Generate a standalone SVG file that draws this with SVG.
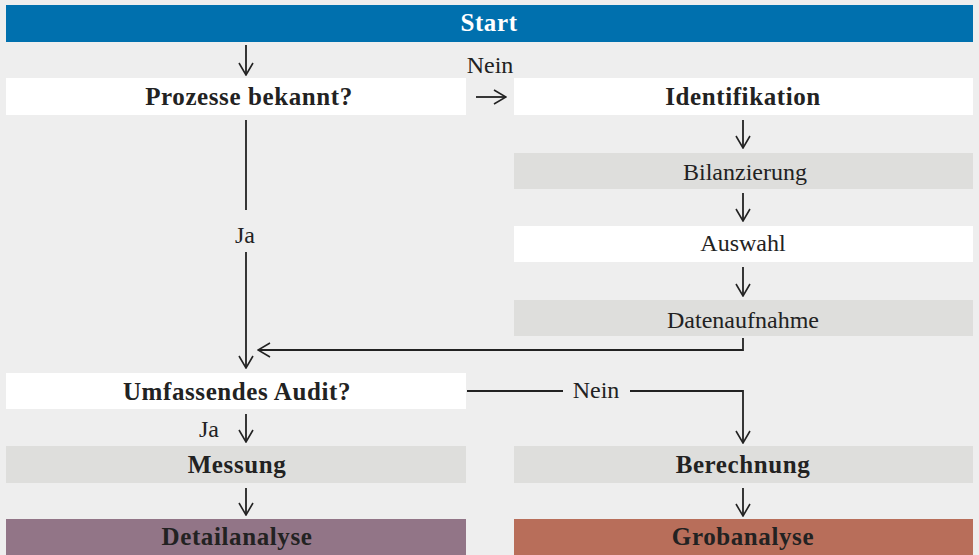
<svg xmlns="http://www.w3.org/2000/svg" width="979" height="555" viewBox="0 0 979 555">
<defs>
<marker id="ah" viewBox="0 0 14 16" refX="13" refY="8" markerWidth="14" markerHeight="16" markerUnits="userSpaceOnUse" orient="auto">
<path d="M1,1 L13,8 L1,15" fill="none" stroke="#222" stroke-width="1.6"/>
</marker>
</defs>
<style>
text{font-family:"Liberation Serif","Times New Roman",serif;font-size:24px;fill:#222;text-anchor:middle}
.b{font-weight:bold;font-size:25px;letter-spacing:0.6px}
.w{fill:#fff}
.c{stroke:#222;stroke-width:1.8;fill:none}
.ca{stroke:#222;stroke-width:1.8;fill:none;marker-end:url(#ah)}
</style>
<rect x="0" y="0" width="979" height="555" fill="#eeeeee"/>
<g id="start"><rect x="6" y="5" width="967" height="37" fill="#0070ae"/><text x="489" y="31" class="b w">Start</text></g>
<g id="prozesse"><rect x="6" y="78" width="460" height="37" fill="#fff"/><text x="249" y="105" class="b">Prozesse bekannt?</text></g>
<g id="identifikation"><rect x="514" y="78" width="459" height="37" fill="#fff"/><text x="743" y="105" class="b">Identifikation</text></g>
<g id="bilanzierung"><rect x="514" y="153" width="459" height="36" fill="#dededc"/><text x="745" y="180">Bilanzierung</text></g>
<g id="auswahl"><rect x="514" y="226" width="459" height="36" fill="#fff"/><text x="743" y="251">Auswahl</text></g>
<g id="datenaufnahme"><rect x="514" y="300" width="459" height="36" fill="#dededc"/><text x="743" y="328">Datenaufnahme</text></g>
<g id="audit"><rect x="6" y="373" width="460" height="36" fill="#fff"/><text x="237" y="400" class="b">Umfassendes Audit?</text></g>
<g id="messung"><rect x="6" y="446" width="460" height="37" fill="#dededc"/><text x="237" y="473" class="b">Messung</text></g>
<g id="detailanalyse"><rect x="6" y="519" width="460" height="36" fill="#927587"/><text x="237" y="545" class="b">Detailanalyse</text></g>
<g id="berechnung"><rect x="514" y="446" width="459" height="37" fill="#dededc"/><text x="743" y="473" class="b">Berechnung</text></g>
<g id="grobanalyse"><rect x="514" y="519" width="459" height="36" fill="#b86e5a"/><text x="743" y="545" class="b">Grobanalyse</text></g>
<g id="connectors">
<line x1="246" y1="45" x2="246" y2="75" class="ca"/>
<line x1="476" y1="97" x2="506" y2="97" class="ca"/>
<text x="490" y="73">Nein</text>
<line x1="743" y1="120" x2="743" y2="148" class="ca"/>
<line x1="743" y1="193" x2="743" y2="221" class="ca"/>
<line x1="743" y1="267" x2="743" y2="296" class="ca"/>
<polyline points="743,338 743,350 258,350" class="ca"/>
<line x1="246" y1="120" x2="246" y2="210" class="c"/>
<text x="245" y="243">Ja</text>
<line x1="246" y1="252" x2="246" y2="368" class="ca"/>
<line x1="246" y1="414" x2="246" y2="442" class="ca"/>
<text x="209" y="437">Ja</text>
<line x1="246" y1="488" x2="246" y2="515" class="ca"/>
<line x1="467" y1="391" x2="563" y2="391" class="c"/>
<text x="596" y="398">Nein</text>
<polyline points="630,391 743,391 743,443" class="ca"/>
<line x1="743" y1="488" x2="743" y2="516" class="ca"/>
</g>
</svg>
